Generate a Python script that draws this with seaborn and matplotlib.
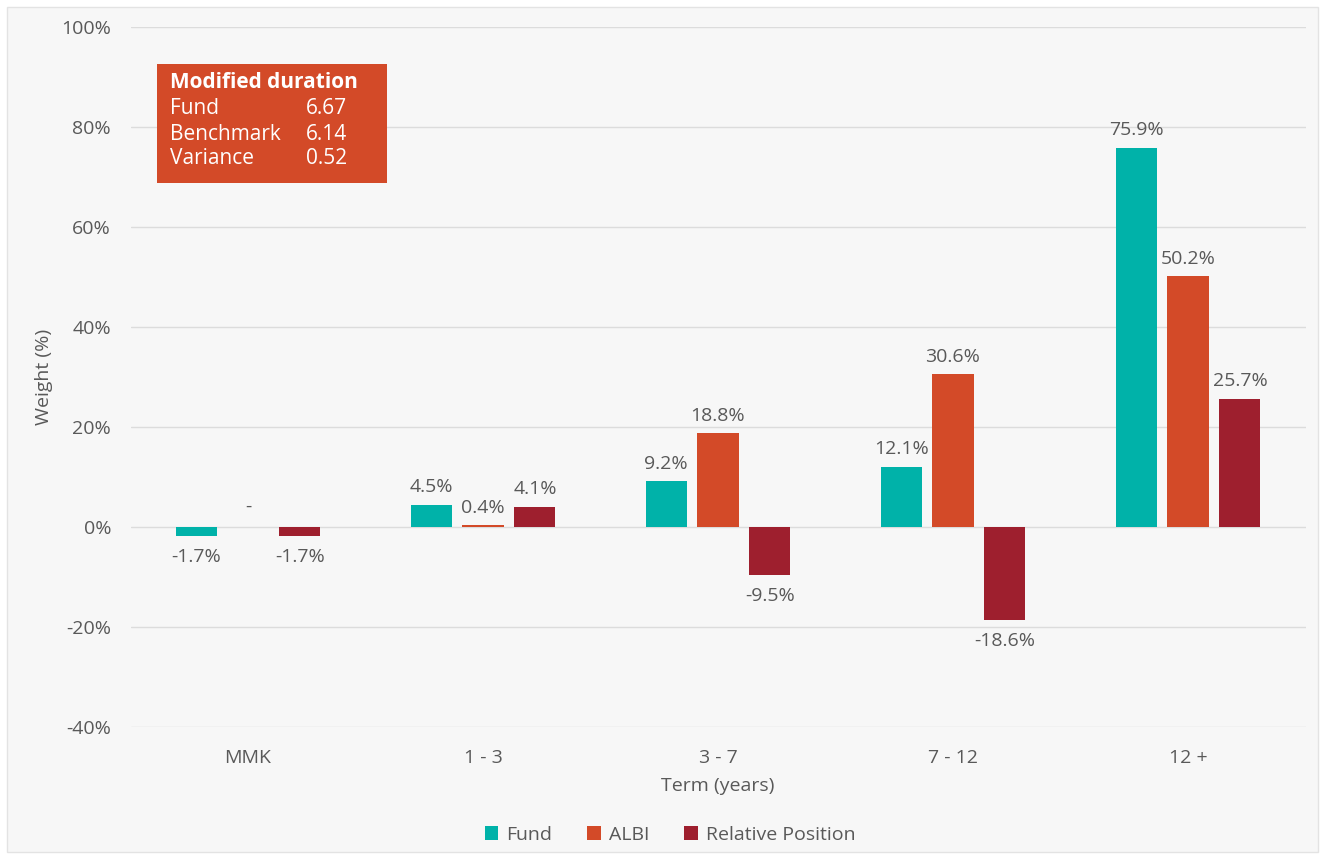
import matplotlib
matplotlib.use("Agg")
import matplotlib.pyplot as plt
from matplotlib.patches import Rectangle, Patch
import seaborn as sns
import pandas as pd

categories = ["MMK", "1 - 3", "3 - 7", "7 - 12", "12 +"]
series_names = ["Fund", "ALBI", "Relative Position"]
fund = [-1.7, 4.5, 9.2, 12.1, 75.9]
albi = [0.0, 0.4, 18.8, 30.6, 50.2]
relative = [-1.7, 4.1, -9.5, -18.6, 25.7]
y_ticks = [-40, -20, 0, 20, 40, 60, 80, 100]
box_rows = [("Fund", "6.67"), ("Benchmark", "6.14"), ("Variance", "0.52")]

colors = ["#00b2a9", "#d34a28", "#9e1f2e"]
text_color = "#595959"
FS = 14

sns.set_theme(style="white")
plt.rcParams["font.family"] = ["Open Sans", "DejaVu Sans"]

rows = []
for name, vals in zip(series_names, [fund, albi, relative]):
    for c, v in zip(categories, vals):
        rows.append({"Term": c, "Series": name, "Value": v})
df = pd.DataFrame(rows)

W, H = 1324, 857
fig = plt.figure(figsize=(W / 100, H / 100), dpi=100, facecolor="white")
fig.patches.append(Rectangle((7 / W, 5 / H), (1318 - 7) / W, (852 - 7) / H,
                             transform=fig.transFigure, facecolor="#f7f7f7",
                             edgecolor="#e3e3e3", lw=1, zorder=-10))

ax = fig.add_axes([130.5 / W, 1 - 727 / H, (1305.5 - 130.5) / W, 700 / H])
ax.set_zorder(1)
ax.set_facecolor("none")
sns.barplot(data=df, x="Term", y="Value", hue="Series", hue_order=series_names,
            order=categories, palette=colors, width=0.663, gap=0.21,
            saturation=1, ax=ax, legend=False, edgecolor="none")

ax.set_ylim(-40, 100)
ax.set_yticks(y_ticks)
ax.set_yticklabels([f"{t}%" for t in y_ticks])
ax.grid(axis="y", color="#dcdcdc", lw=1)
ax.set_axisbelow(True)
for s in ax.spines.values():
    s.set_visible(False)
ax.tick_params(axis="both", length=0, labelsize=FS, colors=text_color)
ax.tick_params(axis="y", pad=14)
ax.tick_params(axis="x", pad=16)
ax.set_xlabel("Term (years)", fontsize=FS, color=text_color, labelpad=7)
ax.set_ylabel("Weight (%)", fontsize=FS, color=text_color, labelpad=6)

for container in ax.containers:
    for bar in container:
        v = bar.get_height()
        x = bar.get_x() + bar.get_width() / 2
        if v == 0:
            label, off, va = "-", 8, "bottom"
        elif v > 0:
            label, off, va = f"{v:.1f}%", 6, "bottom"
        else:
            label, off, va = f"{v:.1f}%", -9, "top"
        ax.annotate(label, (x, v), xytext=(0, off), textcoords="offset points",
                    ha="center", va=va, fontsize=FS, color=text_color)

# Modified duration box
fig.patches.append(Rectangle((157 / W, 1 - 183 / H), 230 / W, 119 / H,
                             transform=fig.transFigure, facecolor="#d34a28",
                             edgecolor="none", zorder=5))
fig.text(170 / W, 1 - 83 / H, "Modified duration", color="white", fontsize=15,
         fontweight="bold", va="center", ha="left", zorder=6)
for i, (k, v) in enumerate(box_rows):
    yy = 1 - (109 + 25 * i) / H
    fig.text(170 / W, yy, k, color="white", fontsize=15, va="center", ha="left", zorder=6)
    fig.text(306 / W, yy, v, color="white", fontsize=15, va="center", ha="left", zorder=6)

handles = [Patch(facecolor=c, edgecolor="none") for c in colors]
fig.legend(handles, series_names, loc="center", bbox_to_anchor=(670 / W, 1 - 835 / H),
           ncol=3, frameon=False, fontsize=FS, handlelength=0.7, handleheight=0.7,
           handletextpad=0.4, columnspacing=1.8, labelcolor=text_color)

fig.savefig("out.png", dpi=100, facecolor="white")
